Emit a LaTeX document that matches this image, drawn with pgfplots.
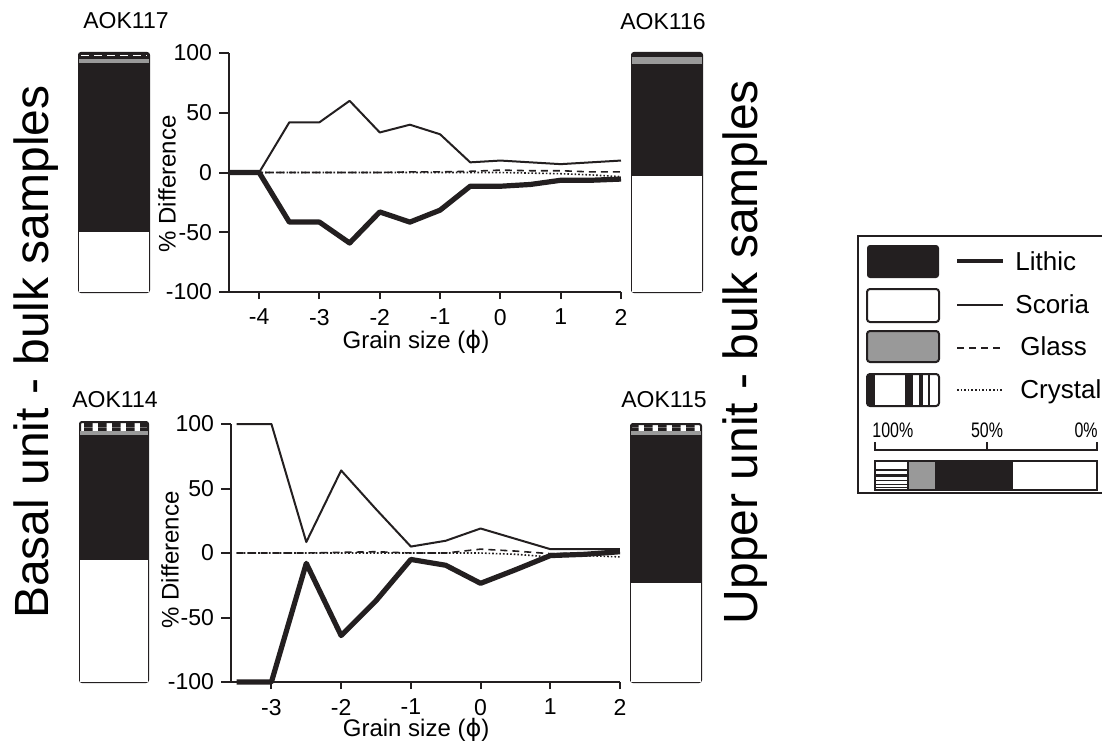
\documentclass[border=0pt]{standalone}
\usepackage{graphicx}
\usepackage{fontspec}
\setmainfont{Liberation Sans}
\newfontfamily\dejavu{DejaVu Sans}
\usepackage{pgfplots}
\pgfplotsset{compat=1.18}
\usetikzlibrary{patterns.meta}
\definecolor{dk}{HTML}{231F20}
\definecolor{gr}{HTML}{999999}
\tikzdeclarepattern{name=crys, type=uncolored,
  bounding box={(0pt,0pt) and (7pt,4pt)}, tile size={(7pt,4pt)},
  code={\fill (0pt,0pt) rectangle (4.5pt,4pt);}}

\pgfplotstableread{
x    lith   scor  glass crys
-4.5 0      0     0     0
-4   0      0     0     0
-3.5 -41.5  42    0     0
-3   -41.5  42    0     0
-2.5 -59    60    0     0
-2   -33    33.5  0     0
-1.5 -41.5  40    0.5   0
-1   -31.5  32    0.5   0
-0.5 -11.5  8.5   1     0
0    -11.5  10    2     0
0.5  -10    8.5   1.5   -0.5
1    -6.5   7     1.5   -1
1.5  -6.5   8.5   0.5   -2
2    -5.5   10    0.5   -3.5
}\toptab

\pgfplotstableread{
x    lith   scor  glass crys
-3.5 -100   100   0     0
-3   -100   100   0     0
-2.5 -8     8.5   0     0
-2   -64    64    0.5   0
-1.5 -37    34    1     0
-1   -5     5     0     0
-0.5 -9.5   9.5   0     0
0    -23.5  19    3     0
0.5  -13    11    1.5   -1
1    -2     3     -0.5  -3
1.5  -1     3     0     -2
2    1      3     1     -3
}\bottab

\tikzset{
  lithic/.style={dk, line width=2.6pt, line join=round},
  scoria/.style={dk, line width=1pt, line join=round},
  glass/.style={dk, line width=0.8pt, dash pattern=on 3.5pt off 2.5pt},
  crystal/.style={dk, line width=0.8pt, dash pattern=on 0.8pt off 1pt},
}
\newcommand{\labfont}{\fontsize{12}{14}\selectfont}
\pgfplotsset{
  diffax/.style={scale only axis, axis lines=left,
    axis line style={line width=1pt, dk, -},
    ymin=-100, ymax=100,
    ytick={-100,-50,0,50,100}, yticklabels={-100,-50,0,50,100},
    tick align=outside, major tick length=5pt,
    xtick style={/pgfplots/major tick length=3.5pt},
    tick style={line width=1pt, dk},
    tick label style={font=\fontsize{11.5}{13}\selectfont},
    clip=false,
    ylabel={\labfont\% Difference}, xlabel={\labfont Grain size ({\dejavu ϕ})}},
  barax/.style={scale only axis, ybar stacked, xmin=-0.5, xmax=0.5,
    ymin=0, ymax=100, xtick=\empty, ytick=\empty,
    axis line style={line width=1pt, dk, rounded corners=1pt}},
}

\begin{document}
\begin{tikzpicture}
\useasboundingbox (0,0) rectangle (551pt,373pt);

% ---------- top difference plot ----------
\begin{axis}[diffax, at={(114.5pt,227pt)}, anchor=south west,
  width=196pt, height=119.5pt, xmin=-4.5, xmax=2,
  xtick={-4,-3,-2,-1,0,1,2}, xticklabels={-4,-3,-2,-1,0,1,2},
  every axis y label/.style={at={(axis description cs:-0.158,0.452)}, rotate=90, anchor=center, font=\labfont},
  every axis x label/.style={at={(axis description cs:0.477,-0.209)}, anchor=center, font=\labfont}]
\addplot[glass] table[x=x,y=glass] {\toptab};
\addplot[crystal] table[x=x,y=crys] {\toptab};
\addplot[scoria] table[x=x,y=scor] {\toptab};
\addplot[lithic] table[x=x,y=lith] {\toptab};
\end{axis}

% ---------- bottom difference plot ----------
\begin{axis}[diffax, at={(115.5pt,32pt)}, anchor=south west,
  width=194.5pt, height=129pt, xmin=-3.58, xmax=2,
  xtick={-3,-2,-1,0,1,2}, xticklabels={-3,-2,-1,0,1,2},
  every axis y label/.style={at={(axis description cs:-0.157,0.473)}, rotate=90, anchor=center, font=\labfont},
  every axis x label/.style={at={(axis description cs:0.476,-0.186)}, anchor=center, font=\labfont}]
\addplot[glass] table[x=x,y=glass] {\bottab};
\addplot[crystal] table[x=x,y=crys] {\bottab};
\addplot[scoria] table[x=x,y=scor] {\bottab};
\addplot[lithic] table[x=x,y=lith] {\bottab};
\end{axis}

% ---------- composition bars ----------
% AOK117
\begin{axis}[barax, at={(39.5pt,227pt)}, anchor=south west, width=35pt, height=119.5pt, bar width=35pt]
\addplot[fill=white, draw=none] coordinates {(0,25)};
\addplot[fill=dk, draw=none] coordinates {(0,70.8)};
\addplot[fill=gr, draw=none] coordinates {(0,1.7)};
\addplot[fill=dk, draw=none] coordinates {(0,2.5)};
\end{axis}
% AOK116
\begin{axis}[barax, at={(316pt,227pt)}, anchor=south west, width=35pt, height=119.5pt, bar width=35pt]
\addplot[fill=white, draw=none] coordinates {(0,48.5)};
\addplot[fill=dk, draw=none] coordinates {(0,47)};
\addplot[fill=gr, draw=none] coordinates {(0,2.9)};
\addplot[fill=dk, draw=none] coordinates {(0,1.6)};
\end{axis}
% AOK114
\begin{axis}[barax, at={(40pt,32pt)}, anchor=south west, width=34pt, height=130pt, bar width=34pt]
\addplot[fill=white, draw=none] coordinates {(0,47)};
\addplot[fill=dk, draw=none] coordinates {(0,48)};
\addplot[fill=gr, draw=none] coordinates {(0,1.7)};
\addplot[pattern=crys, pattern color=dk, draw=none] coordinates {(0,3.3)};
\end{axis}
% AOK115
\begin{axis}[barax, at={(315.5pt,32pt)}, anchor=south west, width=35pt, height=129pt, bar width=35pt]
\addplot[fill=white, draw=none] coordinates {(0,38.4)};
\addplot[fill=dk, draw=none] coordinates {(0,57.3)};
\addplot[fill=gr, draw=none] coordinates {(0,1.6)};
\addplot[pattern=crys, pattern color=dk, draw=none] coordinates {(0,2.7)};
\end{axis}

% ---------- texts and legend (pixel coordinates) ----------
\begin{scope}[shift={(0pt,373pt)}, x=0.5pt, y=-0.5pt]
% thin white dashes in the crystal band of AOK117
\draw[white, line width=0.6pt, dash pattern=on 4pt off 2.5pt] (81,55.5) -- (147,55.5);
\node[font=\fontsize{11.5}{13}\selectfont] at (126,21) {AOK117};
\node[font=\fontsize{11.5}{13}\selectfont] at (663,22) {AOK116};
\node[font=\fontsize{11.5}{13}\selectfont] at (115,400) {AOK114};
\node[font=\fontsize{11.5}{13}\selectfont] at (664,400) {AOK115};
\node[font=\fontsize{24}{28}\selectfont, rotate=90] at (36,352) {Basal unit - bulk samples};
\node[font=\fontsize{24}{28}\selectfont, rotate=90] at (745,352) {Upper unit - bulk samples};

% legend frame
\draw[dk, line width=1pt] (858,236) rectangle (1112,493);
\fill[dk, rounded corners=1.5pt] (867,245) rectangle (939,278);
\draw[dk, line width=1pt, rounded corners=1.5pt] (867,289) rectangle (939,322);
\filldraw[fill=gr, draw=dk, line width=1pt, rounded corners=1.5pt] (867,331) rectangle (939,362);
\fill[dk] (867,374) rectangle (875,406);
\fill[dk] (905,374) rectangle (913,406);
\fill[dk] (919,374) rectangle (923,406);
\fill[dk] (928,374) rectangle (930,406);
\draw[dk, line width=1pt, rounded corners=1.5pt] (867,374) rectangle (939,406);

\draw[dk, line width=2pt] (957,261) -- (1003,261);
\draw[dk, line width=1pt] (957,305) -- (1003,305);
\draw[glass] (957,348) -- (1003,348);
\draw[crystal] (957,390) -- (1003,390);

\node[anchor=base west, inner sep=0pt, font=\fontsize{13}{15}\selectfont] at (1015,270) {Lithic};
\node[anchor=base west, inner sep=0pt, font=\fontsize{13}{15}\selectfont] at (1015,313) {Scoria};
\node[anchor=base west, inner sep=0pt, font=\fontsize{13}{15}\selectfont] at (1020,355) {Glass};
\node[anchor=base west, inner sep=0pt, font=\fontsize{13}{15}\selectfont] at (1020,398) {Crystal};

\node[anchor=base west, inner sep=0pt, font=\fontsize{10.5}{12}\selectfont] at (872,437) {\scalebox{0.76}[1]{100\%}};
\node[anchor=base, inner sep=0pt, font=\fontsize{10.5}{12}\selectfont] at (987,437) {\scalebox{0.76}[1]{50\%}};
\node[anchor=base east, inner sep=0pt, font=\fontsize{10.5}{12}\selectfont] at (1098,437) {\scalebox{0.76}[1]{0\%}};
\draw[dk, line width=1pt] (875,442) -- (875,450) -- (1097,450) -- (1097,442);
\draw[dk, line width=1pt] (987,450) -- (987,442);

\fill[gr] (908,461) rectangle (935,490);
\fill[dk] (935,461) rectangle (1013,490);
\fill[dk] (875,469) rectangle (908,471);
\fill[dk] (875,474) rectangle (908,477);
\fill[dk] (875,480) rectangle (908,481);
\fill[dk] (875,483.5) rectangle (908,484.5);
\fill[dk] (875,487) rectangle (908,488);
\draw[dk, line width=1pt] (908,461) -- (908,490);
\draw[dk, line width=1pt] (875,461) rectangle (1097,490);
\end{scope}
\end{tikzpicture}
\end{document}
